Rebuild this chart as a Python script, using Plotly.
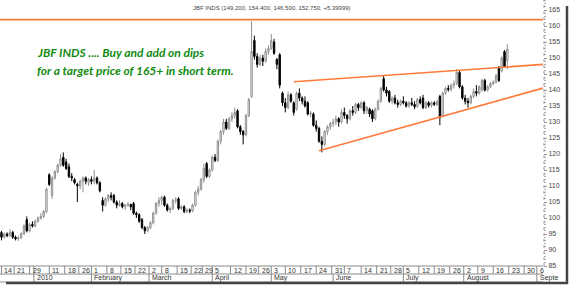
import plotly.graph_objects as go

# ---------------- data ----------------
opens = [95.5, 94, 95, 94.5, 95.5, 94, 93.5, 93.8, 95, 99.5,
         96, 98, 97.5, 99, 100, 100.5, 102, 113.5, 107, 112.5,
         114.5, 116.5, 119, 117.5, 116, 113, 112, 110.5, 110, 111.5,
         112.5, 111, 112, 111.5, 112.5, 111, 105.5, 104, 106, 107,
         107, 105, 104, 104.5, 103.5, 104, 104.2, 104.5, 101.5, 101,
         99.5, 97, 96, 97, 98.5, 101.5, 104.5, 105.5, 106.5, 104,
         102.5, 103, 105.5, 106, 103, 103.5, 102, 102.5, 102.2, 104,
         108, 109, 112, 117, 113, 115, 119, 118, 124, 127,
         130, 128, 131, 132, 133.5, 128.5, 127, 126, 132, 138,
         155.5, 150.5, 148, 150, 149, 152, 153, 155, 149.5, 151,
         139, 136, 134.5, 138.5, 136, 134, 139, 137.5, 136.5, 136,
         132.5, 132.5, 129, 128, 124, 123, 127, 128.5, 129.5, 130,
         131, 130, 133, 132, 131, 133.5, 133, 135.5, 134.5, 136,
         133.5, 134, 133.5, 131, 134, 136.5, 143.5, 140, 139.5, 136.5,
         137.5, 136, 135.5, 136.5, 136, 135, 136, 135.5, 134.8, 137,
         137.5, 134.5, 136, 135.2, 136, 135.5, 138, 132, 139, 140.5,
         140.2, 141.5, 142, 145.5, 141, 137.5, 136.5, 136, 138, 139.5,
         139, 140, 143, 140, 141, 142, 142.5, 147, 146, 152,
         149.2]
highs = [96, 95.5, 95.5, 96.5, 96, 94.5, 94.5, 95.5, 98, 100.5,
         98.5, 99, 99.5, 100.5, 101.5, 102.5, 109.5, 114, 113, 115,
         117, 120, 120.5, 118.5, 117, 114, 112.5, 111, 112, 113,
         113, 112.5, 113, 115, 113, 111.5, 106.5, 106.5, 107.5, 108,
         107.5, 105.5, 105.5, 105, 104.5, 105, 104.5, 105, 102, 101.5,
         100, 97.5, 97.5, 99, 102, 105, 106.5, 107, 107, 104.5,
         103.5, 106, 106.5, 106.5, 104, 104, 103, 103, 104.5, 108.5,
         110, 112.5, 117, 117.5, 115.5, 119.5, 120, 124.5, 127.5, 131,
         131, 131.5, 133, 134.5, 134, 129, 127.5, 132.5, 137.5, 161.5,
         157, 151.5, 151, 151, 153, 154, 157.5, 156, 150, 151.5,
         139.5, 137.5, 139.5, 139, 136.5, 139.5, 140.5, 138, 138, 136.5,
         133.5, 133, 130.5, 128.5, 125.5, 127.5, 129, 130, 131, 132,
         131.5, 134, 134.5, 132.5, 134, 135, 136, 136, 136.5, 136.5,
         135, 134.5, 134, 134.5, 137, 141, 144.5, 141, 140, 138,
         138.5, 137, 137, 138, 136.5, 136.5, 137.5, 136.5, 137.5, 138,
         138.5, 136.5, 136.5, 136.5, 136.5, 137, 138.5, 139.5, 141, 141.5,
         142, 143, 146.5, 146, 141.5, 138.5, 137.5, 138.5, 140.5, 141.5,
         141.5, 143.5, 143.5, 141.5, 142.5, 143, 145, 147.5, 150.5, 152.5,
         154.4]
lows = [93, 93.5, 94, 94, 93.5, 93, 92.8, 93.5, 94.8, 95.5,
        95.5, 97, 97, 98.5, 99.5, 100, 101.5, 110, 106, 112,
        114, 116, 116, 115, 112.5, 111.5, 110.5, 105, 109, 108,
        110.5, 110, 110.5, 110.5, 110.5, 108, 102, 103.5, 105, 105.5,
        104.5, 103, 103.5, 103, 102.5, 103.5, 102.5, 101, 100, 98.5,
        96.5, 95, 95.5, 96.5, 98, 101, 103.5, 104, 103.5, 102,
        101.5, 102.5, 104.5, 102.5, 102.5, 101.5, 101.5, 101.5, 101.8, 103.5,
        107, 108.5, 111, 112.5, 112.5, 114.5, 117.5, 117.5, 123, 126,
        127.5, 127.5, 130, 131, 128, 126, 123, 125.5, 131.5, 137.5,
        149.5, 147, 147.5, 147.5, 148.5, 151, 152.5, 151, 146.5, 140.5,
        135, 133, 134, 136, 132, 133.5, 136.5, 135.5, 134.5, 132,
        131.5, 128.5, 127, 123.5, 120.5, 122.5, 126, 127.5, 128.5, 129,
        128.5, 129.5, 131, 129.5, 130.5, 132, 132.5, 133.5, 134, 132.5,
        132.5, 131.5, 130, 130.5, 133.5, 136, 139.5, 138, 136, 135.5,
        135.5, 134.5, 135, 135.5, 134.5, 134.5, 135, 134, 134.5, 135.5,
        134, 134, 134.5, 134.5, 135, 135, 129, 131.5, 138.5, 139.5,
        139.5, 140.5, 141.5, 140.5, 137, 135.5, 134.5, 135.5, 137.5, 138,
        138.5, 139.5, 139.5, 139.5, 140.5, 141.5, 142, 142.5, 145.5, 147,
        146.5]
closes = [94, 95, 94.5, 95.5, 94, 93.5, 93.8, 95.2, 97.5, 96,
          98, 97.5, 99, 100, 100.5, 102, 109, 110.5, 112.5, 114.5,
          116.5, 118.5, 116.5, 115.5, 113, 112.5, 111, 110, 111.5, 112.5,
          111.5, 112, 111.5, 112.5, 111, 108.5, 104, 106, 107, 106.5,
          105, 104, 104.5, 103.5, 104, 104.2, 103.5, 101.5, 101, 99,
          97, 96, 97, 98.5, 101.5, 104.5, 105.5, 106.5, 104, 102.5,
          103, 105.5, 105.7, 103, 103.5, 102, 102.5, 102.2, 104, 108,
          109, 112, 115.5, 113, 115, 119, 118, 124, 127, 130,
          128, 131, 132, 133, 128.5, 127, 126, 132, 137, 152,
          150.5, 148, 150, 149, 152, 153, 155.5, 151.5, 148, 141.5,
          136, 134.5, 138.5, 136.5, 133, 139, 137.5, 136.5, 135, 132.5,
          132.8, 129, 128, 124, 123, 127, 128.5, 129.5, 130, 131,
          130, 133, 132, 131, 133.5, 133, 135.5, 134.5, 136, 133.5,
          134.5, 132.5, 131, 134, 136.5, 140.5, 140, 139, 136.5, 137.5,
          136, 135.5, 136.5, 136, 135, 136, 135.5, 134.8, 137, 136,
          134.5, 136, 135.2, 136, 135.5, 136.3, 131.5, 139, 140.5, 140.2,
          141.5, 142, 145.5, 141, 137.5, 136.5, 136, 138, 139.5, 139,
          141, 143, 140, 141, 142, 142.5, 144.5, 143, 150, 147.35,
          152.75]
days = list(range(len(closes)))

week_pos = [0, 4.5, 10, 11.5, 17, 22.5, 27.5, 32, 37.5, 42.5, 47.5, 52.5, 57, 62.5,
            67.5, 71.5, 75, 81.5, 87, 91.5, 96, 101, 106.5, 112, 117.5, 122, 128,
            133.5, 138.5, 143, 148.5, 154, 159.5, 164.5, 169.5, 175, 180.5, 186, 190.5]
week_labels = ["14", "21", "29", "", "11", "18", "26", "1", "8", "15", "22", "2", "8", "15",
               "22", "29", "5", "12", "19", "26", "3", "10", "17", "24", "31", "7", "14",
               "21", "28", "5", "12", "19", "26", "2", "9", "16", "23", "30", "6"]
month_pos = [11.5, 32, 52.5, 75, 96, 118, 143, 164.5, 190.5]
month_labels = ["2010", "February", "March", "April", "May", "June", "July", "August", "Septe"]

resistance_level = 162.0
upper_trend_x = [104, 192.7]
upper_trend_y = [142.6, 148.0]
lower_trend_x = [113, 192.7]
lower_trend_y = [121.0, 140.6]

title_text = "JBF INDS (149.200, 154.400, 146.500, 152.750, +5.39999)"
note_lines = ["JBF INDS .... Buy and add on dips",
              "for a target price of 165+ in short term."]

# ---------------- layout geometry ----------------
W, H = 570, 285
PW, PH = 543, 266          # plot area in pixels
XR = [-0.53, 192.7]
YR = [85.0, 168.125]
ORANGE = "#ff7a3a"

def py(px):  # pixel y (from top) -> paper y
    return (PH - px) / PH

def px_(x):  # pixel x -> paper x
    return x / PW

fig = go.Figure()
fig.add_trace(go.Candlestick(
    x=days, open=opens, high=highs, low=lows, close=closes,
    increasing=dict(line=dict(color="#8f8f8f", width=1), fillcolor="white"),
    decreasing=dict(line=dict(color="black", width=1), fillcolor="black"),
    whiskerwidth=0, showlegend=False, hoverinfo="skip"))

shapes = []
# orange lines
shapes.append(dict(type="line", xref="x", yref="y", x0=XR[0], x1=XR[1],
                   y0=resistance_level, y1=resistance_level,
                   line=dict(color=ORANGE, width=1.6)))
shapes.append(dict(type="line", xref="x", yref="y", x0=upper_trend_x[0], x1=upper_trend_x[1],
                   y0=upper_trend_y[0], y1=upper_trend_y[1], line=dict(color=ORANGE, width=1.6)))
shapes.append(dict(type="line", xref="x", yref="y", x0=lower_trend_x[0], x1=lower_trend_x[1],
                   y0=lower_trend_y[0], y1=lower_trend_y[1], line=dict(color=ORANGE, width=1.6)))

# date boxes
GRID = "#8a8a8a"
for yy in [0, py(PH + 8), py(PH + 16)]:
    shapes.append(dict(type="line", xref="paper", yref="paper", x0=0, x1=1, y0=yy, y1=yy,
                       line=dict(color=GRID, width=1)))
for xp in week_pos:
    shapes.append(dict(type="line", xref="x", yref="paper", x0=xp, x1=xp, y0=0, y1=py(PH + 8),
                       line=dict(color=GRID, width=1)))
for xp in month_pos:
    shapes.append(dict(type="line", xref="x", yref="paper", x0=xp, x1=xp, y0=py(PH + 8),
                       y1=py(PH + 16), line=dict(color=GRID, width=1)))
# right axis dotted line
shapes.append(dict(type="line", xref="paper", yref="paper", x0=px_(PW + 1), x1=px_(PW + 1),
                   y0=0, y1=1, line=dict(color="#9a9a9a", width=1, dash="dot")))
# drop shadow of frame
shapes.append(dict(type="line", xref="paper", yref="paper", x0=px_(567), x1=px_(567),
                   y0=py(6), y1=py(284), line=dict(color="#444", width=2.5)))
shapes.append(dict(type="line", xref="paper", yref="paper", x0=px_(6), x1=px_(568),
                   y0=py(283), y1=py(283), line=dict(color="#444", width=2.5)))

annotations = []
for xp, lab in zip(week_pos, week_labels):
    if lab:
        annotations.append(dict(x=xp, y=py(PH + 4), xref="x", yref="paper", text=lab,
                                showarrow=False, xanchor="left", yanchor="middle", xshift=1,
                                font=dict(family="Liberation Sans", size=7, color="#333")))
for xp, lab in zip(month_pos, month_labels):
    annotations.append(dict(x=xp, y=py(PH + 12), xref="x", yref="paper", text=lab,
                            showarrow=False, xanchor="left", yanchor="middle", xshift=1,
                            font=dict(family="Liberation Sans", size=7, color="#333")))
annotations.append(dict(x=0.5, y=py(8), xref="paper", yref="paper", text=title_text,
                        showarrow=False, xanchor="center", yanchor="middle",
                        font=dict(family="Liberation Sans", size=6, color="#444")))
for k, line in enumerate(note_lines):
    annotations.append(dict(x=px_(35), y=py(52 + 18 * k), xref="paper", yref="paper",
                            text="<b><i>" + line + "</i></b>", showarrow=False,
                            xanchor="left", yanchor="middle",
                            font=dict(family="Lato", size=12, color="#108a10")))

fig.update_layout(
    width=W, height=H,
    margin=dict(l=0, r=W - PW, t=0, b=H - PH),
    paper_bgcolor="white", plot_bgcolor="white",
    shapes=shapes, annotations=annotations, showlegend=False,
    xaxis=dict(range=XR, showgrid=False, zeroline=False, showticklabels=False,
               ticks="", showline=False, rangeslider=dict(visible=False)),
    yaxis=dict(range=YR, side="right", showgrid=False, zeroline=False,
               tickmode="linear", tick0=85, dtick=5, ticks="outside", ticklen=3,
               tickcolor="#9a9a9a", showline=False,
               minor=dict(dtick=1, ticks="outside", ticklen=2, tickcolor="#b0b0b0"),
               tickfont=dict(family="Liberation Sans", size=7, color="#444")),
)
fig.write_html("out.html")
